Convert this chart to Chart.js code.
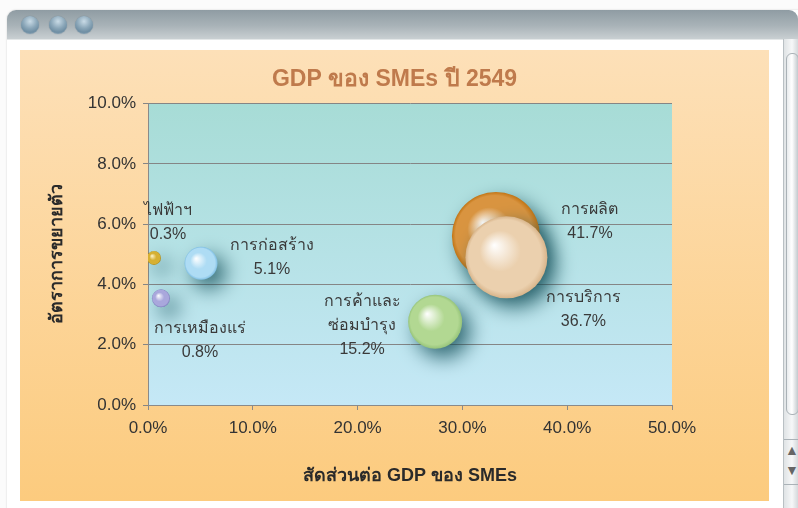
<!DOCTYPE html>
<html>
<head>
<meta charset="utf-8">
<script src="https://cdn.jsdelivr.net/npm/chart.js@4.4.1/dist/chart.umd.min.js"></script>
<style>
  body { margin: 0; background: #fbfbfb; width: 798px; height: 508px; overflow: hidden; position: relative; font-family: "Liberation Sans", sans-serif; }
  #frame { position: absolute; left: 7px; top: 10px; width: 800px; height: 510px; background: #fff; border-radius: 9px 9px 0 0; box-shadow: 0 0 2px #ccc; }
  #titlebar { position: absolute; left: 0; top: 0; width: 791px; height: 29px; border-radius: 9px 9px 0 0;
    background: linear-gradient(#8f9ca3, #a9b3b8 55%, #c9cfd2); border-bottom: 1px solid #e4e7e8; }
  .dot { position: absolute; top: 6px; width: 18px; height: 18px; border-radius: 50%;
    background: radial-gradient(circle at 50% 30%, #c9dbe6 0%, #8aa6b8 45%, #6f8ea3 70%, #a7bccb 100%);
    box-shadow: 0 0 1px #6b7d88; }
  #scroll { position: absolute; left: 776px; top: 29px; width: 16px; height: 480px;
    background: linear-gradient(90deg, #dfe3e5, #f6f7f8 50%, #c9ced1); border-left: 1px solid #b9c0c4; }
  #thumb { position: absolute; left: 2px; top: 14px; width: 11px; height: 360px; border-radius: 6px;
    background: linear-gradient(90deg, #e9ecee, #ffffff 45%, #c3c9cd); border: 1px solid #aab2b7; }
  #arrows { position: absolute; left: 0; top: 400px; width: 16px; height: 44px; border-top: 1px solid #aab2b7; border-bottom: 1px solid #aab2b7; color: #666; font-size: 14px; text-align: center; line-height: 20px; }
  #panel { position: absolute; left: 20px; top: 50px; width: 749px; height: 451px;
    background: linear-gradient(#fde0b8, #fccb7e); }
</style>
</head>
<body>
<div id="frame">
  <div id="titlebar">
    <div class="dot" style="left:14px"></div>
    <div class="dot" style="left:42px"></div>
    <div class="dot" style="left:68px"></div>
  </div>
  <div id="scroll"><div id="thumb"></div><div id="arrows">&#9650;<br>&#9660;</div></div>
</div>
<div id="panel"><canvas id="bubbleChart" width="749" height="451"></canvas></div>
<script>
// sectors shown in the chart
const sectors = ['ไฟฟ้าฯ', 'การเหมืองแร่', 'การก่อสร้าง', 'การค้าและซ่อมบำรุง', 'การผลิต', 'การบริการ'];
// label lines under each bubble
const labelLines = [['ไฟฟ้าฯ'], ['การเหมืองแร่'], ['การก่อสร้าง'], ['การค้าและ', 'ซ่อมบำรุง'], ['การผลิต'], ['การบริการ']];
const shareText = ['0.3%', '0.8%', '5.1%', '15.2%', '41.7%', '36.7%'];
// bubble position (share of SME GDP %, growth %) and bubble size
const shareX = [0.57, 1.24, 5.06, 27.4, 33.2, 34.2];
const growthY = [4.88, 3.54, 4.70, 2.76, 5.61, 4.90];
const bubbleSize = [7, 9, 16.5, 27, 44, 41];
// axis ticks
const xTicks = [0, 10, 20, 30, 40, 50];
const yTicks = [0, 2, 4, 6, 8, 10];

// colours: [dark edge, body, light]
const bubbleColors = [
  ['#a88410', '#d6b032', '#fff6d0'],
  ['#7d7bbd', '#a9a7dc', '#ffffff'],
  ['#7fbfe4', '#aedcf4', '#ffffff'],
  ['#96c47a', '#b2d892', '#ffffff'],
  ['#c27414', '#d99440', '#ffffff'],
  ['#d8b48a', '#ebd0ae', '#ffffff']
];
// where the text sits, relative to bubble center (px)
const labelOffsets = [[14, -47], [39, 30], [71, -18], [-73, -20], [94, -26], [77, 40]];

const bubbleData = shareX.map((x, i) => ({ x: x, y: growthY[i], r: bubbleSize[i] }));

function bubbleFill(context) {
  const chart = context.chart;
  const i = context.dataIndex;
  if (i === undefined || !chart.scales.x || !chart.scales.y) return '#cccccc';
  const cx = chart.scales.x.getPixelForValue(shareX[i]);
  const cy = chart.scales.y.getPixelForValue(growthY[i]);
  if (!isFinite(cx) || !isFinite(cy)) return bubbleColors[i][1];
  const r = bubbleSize[i];
  const g = chart.ctx.createRadialGradient(cx - r * 0.3, cy - r * 0.3, 0, cx, cy, r);
  g.addColorStop(0, bubbleColors[i][2]);
  g.addColorStop(0.5, bubbleColors[i][1]);
  g.addColorStop(0.88, bubbleColors[i][1]);
  g.addColorStop(1, bubbleColors[i][0]);
  return g;
}

// plot area background + bubble shadows + text labels
const decoPlugin = {
  id: 'deco',
  beforeDraw(chart) {
    const { ctx, chartArea } = chart;
    const g = ctx.createLinearGradient(0, chartArea.top, 0, chartArea.bottom);
    g.addColorStop(0, '#a7dcd6');
    g.addColorStop(1, '#c5e8f6');
    ctx.save();
    ctx.fillStyle = g;
    ctx.fillRect(chartArea.left, chartArea.top, chartArea.right - chartArea.left, chartArea.bottom - chartArea.top);
    ctx.restore();
  },
  beforeDatasetsDraw(chart) {
    const ctx = chart.ctx;
    ctx.save();
    ctx.shadowColor = 'rgba(15, 75, 85, 0.8)';
    ctx.shadowBlur = 20;
    ctx.shadowOffsetX = 8;
    ctx.shadowOffsetY = 9;
  },
  afterDatasetsDraw(chart) {
    const ctx = chart.ctx;
    ctx.restore();
    const meta = chart.getDatasetMeta(0);
    ctx.save();
    ctx.fillStyle = '#3a3a3a';
    ctx.font = '16px "Liberation Sans", "Noto Sans", sans-serif';
    ctx.textAlign = 'center';
    ctx.textBaseline = 'middle';
    meta.data.forEach((el, i) => {
      const lines = labelLines[i].concat([shareText[i]]);
      const x = el.x + labelOffsets[i][0];
      let y = el.y + labelOffsets[i][1];
      lines.forEach(t => { ctx.fillText(t, x, y); y += 24; });
    });
    ctx.restore();
  }
};

const chart = new Chart('bubbleChart', {
  type: 'bubble',
  data: {
    labels: sectors,
    datasets: [{
      data: bubbleData,
      backgroundColor: bubbleFill,
      borderWidth: 0,
      hoverBorderWidth: 0
    }]
  },
  options: {
    responsive: false,
    animation: false,
    layout: { padding: 0 },
    plugins: {
      legend: { display: false },
      tooltip: { enabled: false },
      title: {
        display: true,
        text: 'GDP ของ SMEs ปี 2549',
        color: '#bf7a4c',
        font: { size: 23, weight: 'bold', family: '"Liberation Sans", "Noto Sans", sans-serif' },
        padding: { top: 16, bottom: 10 }
      }
    },
    scales: {
      x: {
        min: 0, max: 50,
        afterBuildTicks(scale) { scale.ticks = xTicks.map(v => ({ value: v })); },
        afterFit(scale) { scale.height = 96; },
        grid: { drawOnChartArea: false, drawTicks: true, tickLength: 5, color: '#8a8a8a' },
        border: { display: true, color: '#8a8a8a' },
        ticks: {
          padding: 8, color: '#333',
          font: { size: 17, family: '"Liberation Sans", sans-serif' },
          callback: v => v.toFixed(1) + '%'
        },
        title: {
          display: true,
          text: 'สัดส่วนต่อ GDP ของ SMEs',
          color: '#2a2a2a',
          font: { size: 18, weight: 'bold', family: '"Liberation Sans", "Noto Sans", sans-serif' },
          padding: { top: 0, bottom: 14 }
        }
      },
      y: {
        min: 0, max: 10,
        afterBuildTicks(scale) { scale.ticks = yTicks.map(v => ({ value: v })); },
        afterFit(scale) { scale.width = 128; },
        grid: { drawOnChartArea: true, drawTicks: true, tickLength: 5, color: '#858585' },
        border: { display: true, color: '#8a8a8a' },
        ticks: {
          padding: 7, color: '#333',
          font: { size: 17, family: '"Liberation Sans", sans-serif' },
          callback: v => v.toFixed(1) + '%'
        },
        title: {
          display: true,
          text: 'อัตราการขยายตัว',
          color: '#2a2a2a',
          font: { size: 18, weight: 'bold', family: '"Liberation Sans", "Noto Sans", sans-serif' },
          padding: { top: 26, bottom: 0 }
        }
      },
      // empty right-hand spacer so the plot stops short of the panel edge
      spacer: {
        type: 'linear',
        position: 'right',
        display: true,
        grid: { display: false },
        border: { display: false },
        ticks: { display: false },
        afterFit(scale) { scale.width = 97; }
      }
    }
  },
  plugins: [decoPlugin]
});
// re-render once the scales are laid out so the bubble gradients land on the bubbles
chart.update('none');
</script>
</body>
</html>
